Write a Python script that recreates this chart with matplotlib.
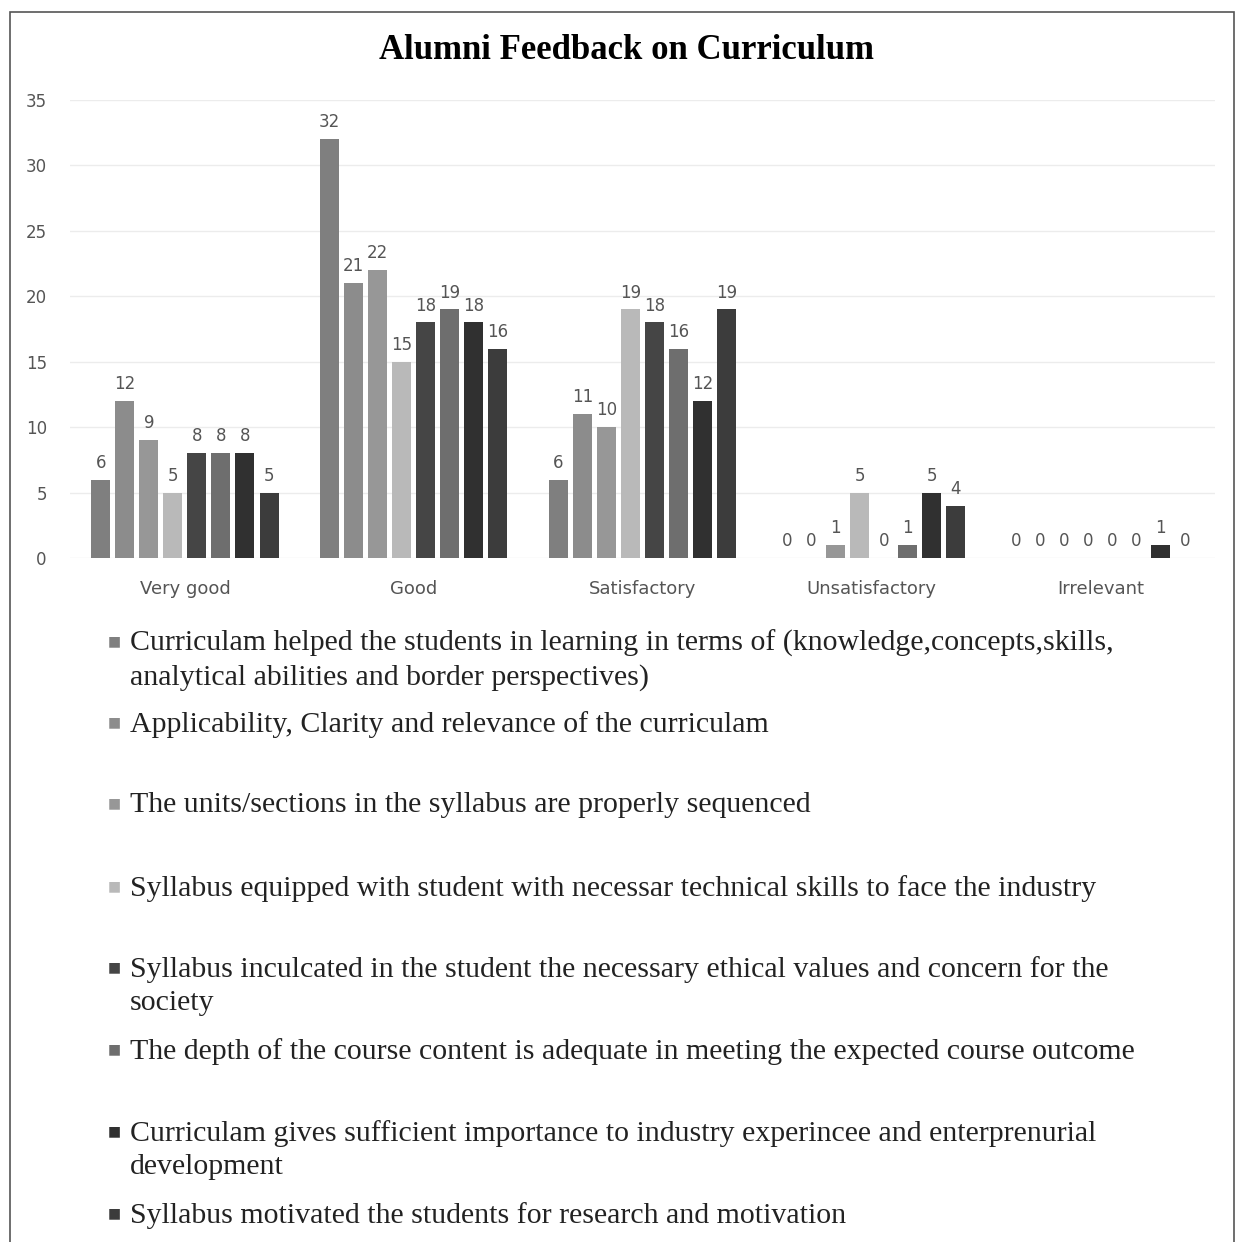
import matplotlib.pyplot as plt
import numpy as np
from matplotlib.patches import Rectangle

# categories and the eight survey questions
categories = ['Very good', 'Good', 'Satisfactory', 'Unsatisfactory', 'Irrelevant']
q1 = [6, 32, 6, 0, 0]
q2 = [12, 21, 11, 0, 0]
q3 = [9, 22, 10, 1, 0]
q4 = [5, 15, 19, 5, 0]
q5 = [8, 18, 18, 0, 0]
q6 = [8, 19, 16, 1, 0]
q7 = [8, 18, 12, 5, 1]
q8 = [5, 16, 19, 4, 0]
series = [q1, q2, q3, q4, q5, q6, q7, q8]

legend_labels = [
    'Curriculam helped the students in learning in terms of (knowledge,concepts,skills,\nanalytical abilities and border perspectives)',
    'Applicability, Clarity and relevance of the curriculam',
    'The units/sections in the syllabus are properly sequenced',
    'Syllabus equipped with student with necessar technical skills to face the industry',
    'Syllabus inculcated in the student the necessary ethical values and concern for the\nsociety',
    'The depth of the course content is adequate in meeting the expected course outcome',
    'Curriculam gives sufficient importance to industry experincee and enterprenurial\ndevelopment',
    'Syllabus motivated the students for research and motivation',
]

colors = ['#7f7f7f', '#8c8c8c', '#979797', '#b9b9b9', '#454545', '#6e6e6e', '#303030', '#3c3c3c']

fig = plt.figure(figsize=(12.36, 12.42), dpi=100)
ax = fig.add_axes([0.057, 0.5507, 0.926, 0.3688])

x = np.arange(len(categories))
pitch = 0.105
width = 0.083
for i, vals in enumerate(series):
    pos = x + (i - 3.5) * pitch
    bars = ax.bar(pos, vals, width, color=colors[i], zorder=3)
    for b, v in zip(bars, vals):
        ax.text(b.get_x() + b.get_width() / 2, v + 0.6, str(v),
                ha='center', va='bottom', fontsize=12, color='#555555')

ax.set_xlim(-0.5, len(categories) - 0.5)
ax.set_ylim(0, 35)
ax.set_yticks(range(0, 36, 5))
ax.set_xticks(x)
ax.set_xticklabels(categories, fontsize=13, color='#555555')
ax.tick_params(axis='y', labelsize=12, labelcolor='#555555', length=0, pad=17)
ax.tick_params(axis='x', length=0, pad=16)
ax.grid(axis='y', color='#ececec', lw=1, zorder=0)
for s in ax.spines.values():
    s.set_visible(False)

fig.text(0.507, 0.959, 'Alumni Feedback on Curriculum', ha='center', va='center',
         fontsize=25, fontweight='bold', family='Liberation Serif')

# legend entries, placed by hand like the original
legend_y = [641, 722, 803, 886, 967, 1049, 1131, 1213]
for lab, yy, c in zip(legend_labels, legend_y, colors):
    yf = 1 - yy / 1242
    fig.text(0.087, yf, '\u25a0', color=c, fontsize=10, va='center', ha='left',
             family='DejaVu Sans')
    fig.text(0.105, yf + 0.0087, lab, fontsize=21.5, va='top', ha='left',
             family='Liberation Serif', color='#222222', linespacing=1.32)

# outer frame
fig.patches.append(Rectangle((0.008, -0.01), 0.99, 1.0, transform=fig.transFigure,
                             fill=False, ec='#555555', lw=1.2))

fig.savefig('out.png', dpi=100)
